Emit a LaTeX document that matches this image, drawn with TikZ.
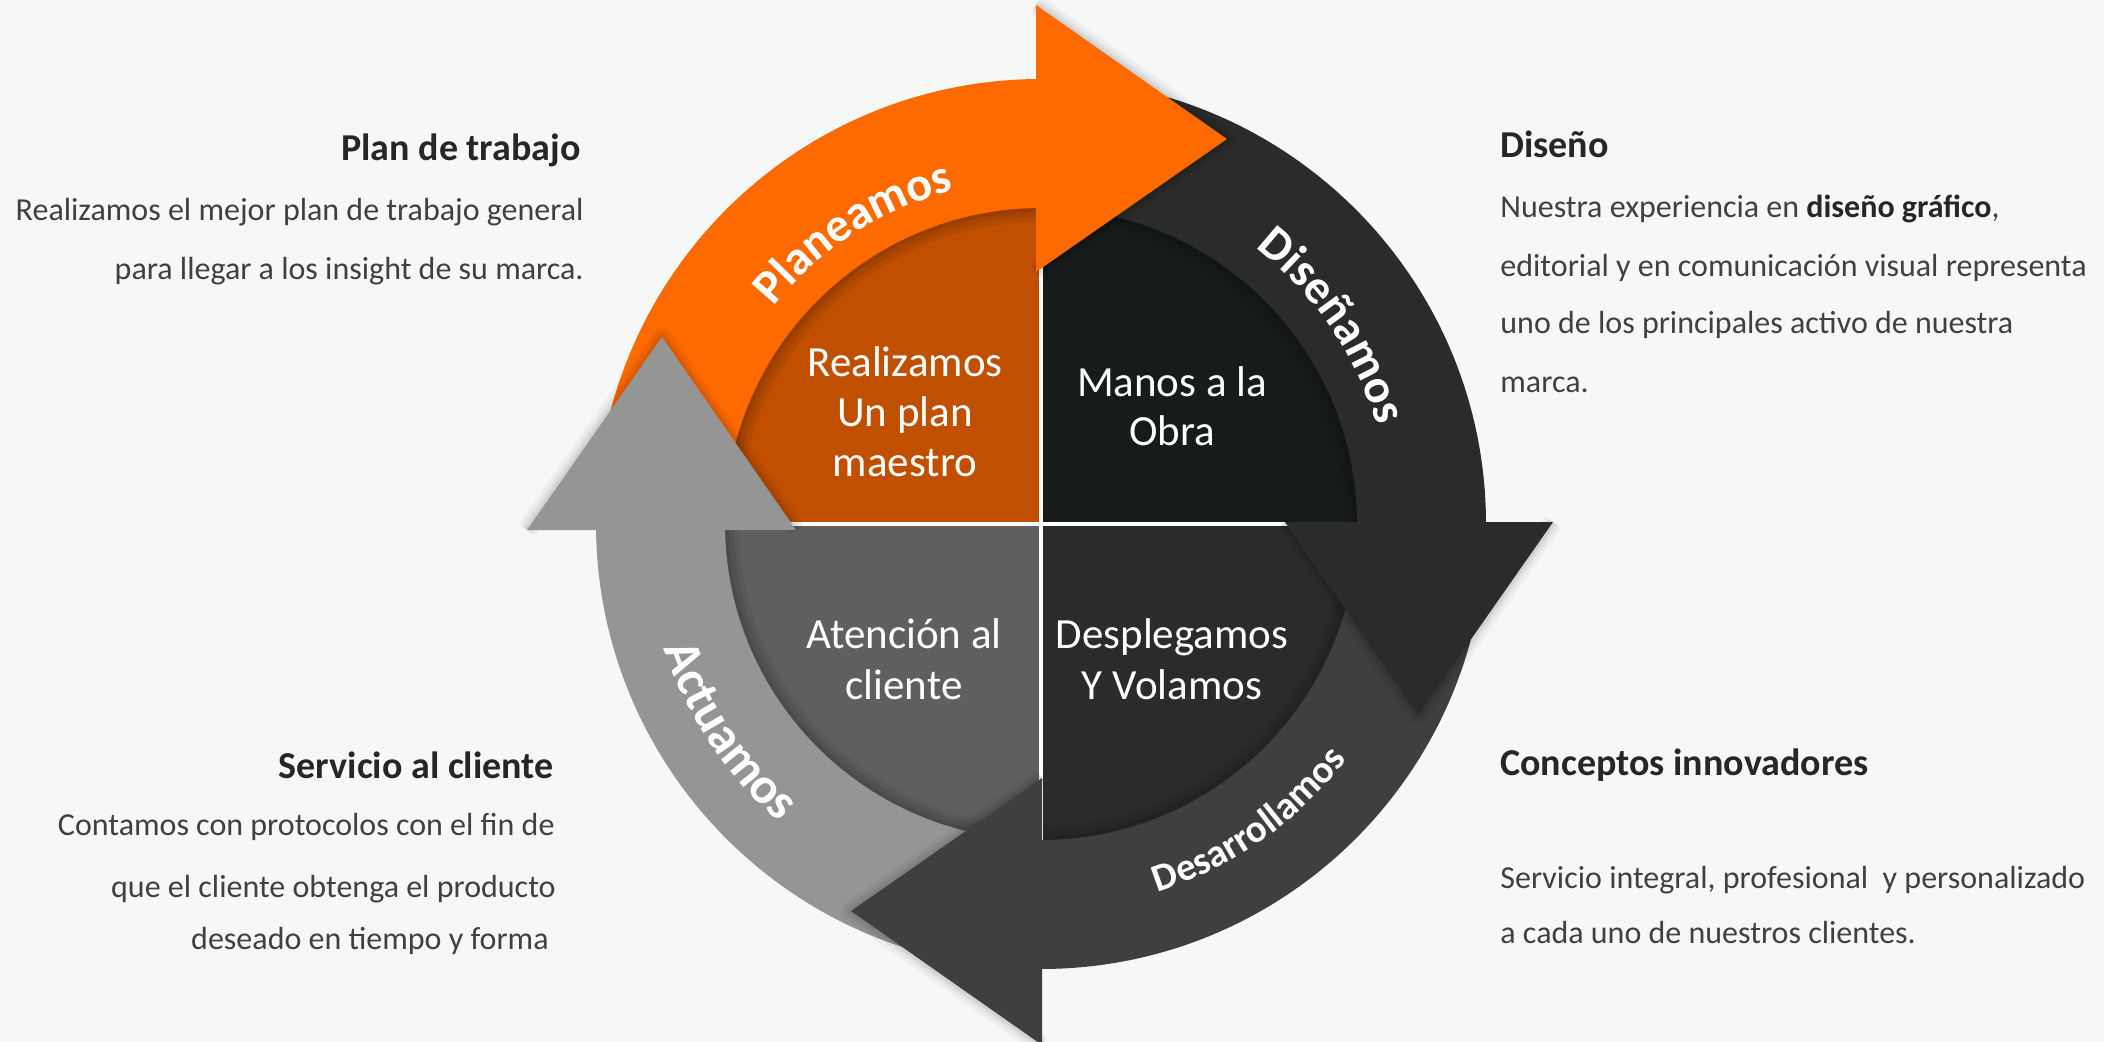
\documentclass[tikz,border=0pt]{standalone}
\usepackage{fontspec}
\setmainfont{Carlito}
\usetikzlibrary{decorations.text}
\definecolor{bg}{RGB}{246,247,247}
\definecolor{orng}{RGB}{255,106,0}
\definecolor{qtl}{RGB}{192,79,0}
\definecolor{qtr}{RGB}{23,27,27}
\definecolor{qbl}{RGB}{95,95,95}
\definecolor{qbr}{RGB}{43,43,43}
\definecolor{rdis}{RGB}{43,43,43}
\definecolor{rdes}{RGB}{63,63,63}
\definecolor{ract}{RGB}{149,149,149}
\definecolor{bodycol}{RGB}{64,64,64}
\definecolor{titlecol}{RGB}{38,38,38}
\newcommand{\lblfont}{\fontsize{24}{24}\selectfont\bfseries}
\newcommand{\lblact}{\fontsize{25.5}{25.5}\selectfont\bfseries}
\newcommand{\lblsmall}{\fontsize{19.5}{19.5}\selectfont\bfseries}
\newcommand{\headshadow}[3]{%
  \foreach \w/\o in {10/0.04,6/0.05,3/0.06}{%
    \draw[black,opacity=\o,line width=\w pt,line join=round] (#1)--(#2)--(#3);}}
\begin{document}
\begin{tikzpicture}[x=0.5pt,y=0.5pt,
  bodytxt/.style={font=\fontsize{16}{19}\selectfont, text=bodycol, inner sep=0pt},
  titletxt/.style={font=\fontsize{19}{23}\selectfont\bfseries, text=titlecol, inner sep=0pt},
  innertxt/.style={font=\fontsize{21.5}{25}\selectfont, text=white, inner sep=0pt, anchor=base}]
\useasboundingbox (0,0) rectangle (2104,1041);
\clip (0,0) rectangle (2104,1041);
\fill[bg] (0,0) rectangle (2104,1041);
\coordinate (C) at (1041,517);

% inner quadrants
\fill[qtl, shift={(C)}] (0,0) -- (180:318) arc (180:90:318) -- cycle;
\fill[qtr, shift={(C)}] (0,0) -- (90:318) arc (90:0:318) -- cycle;
\fill[qbr, shift={(C)}] (0,0) -- (0:318) arc (0:-90:318) -- cycle;
\fill[qbl, shift={(C)}] (0,0) -- (-90:318) arc (-90:-180:318) -- cycle;
% inner shadow near the ring
\foreach \w/\o in {14/0.06,9/0.07,4/0.08}{%
  \draw[black, opacity=\o, line width=\w pt, shift={(C)}] (0:316) arc (0:360:316);}
% white cross
\draw[white, line width=2.2pt, shift={(C)}] (-330,0) -- (330,0) (0,-330) -- (0,330);

% ring bodies
\fill[orng, shift={(C)}] (180:445) arc (180:90:445) -- (90:316) arc (90:180:316) -- cycle;
\fill[rdis, shift={(C)}] (90:445) arc (90:0:445) -- (0:316) arc (0:90:316) -- cycle;
\fill[rdes, shift={(C)}] (0:445) arc (0:-90:445) -- (-90:316) arc (-90:0:316) -- cycle;
\fill[ract, shift={(C)}] (-90:445) arc (-90:-180:445) -- (-180:316) arc (-180:-90:316) -- cycle;

% arrow heads
\coordinate (o1) at (1036,1036); \coordinate (o2) at (1227,902); \coordinate (o3) at (1036,769);
\coordinate (d1) at (1553,519);  \coordinate (d2) at (1418,326); \coordinate (d3) at (1285,519);
\coordinate (s1) at (1042,263);  \coordinate (s2) at (851,130);  \coordinate (s3) at (1042,-4);
\coordinate (g1) at (527,511);   \coordinate (g2) at (662,704);  \coordinate (g3) at (796,511);
\headshadow{o1}{o2}{o3}
\headshadow{d1}{d2}{d3}
\headshadow{s1}{s2}{s3}
\headshadow{g1}{g2}{g3}
\fill[orng] (o1) -- (o2) -- (o3) -- cycle;
\fill[rdis] (d1) -- (d2) -- (d3) -- cycle;
\fill[rdes] (s1) -- (s2) -- (s3) -- cycle;
\fill[ract] (g1) -- (g2) -- (g3) -- cycle;

% curved labels
\path[decorate, decoration={text along path, text={|\lblfont|Planeamos}, text align=center, text color=white}, shift={(C)}]
  (152.75:345) arc (152.75:92.75:345);
\path[decorate, decoration={text along path, text={|\lblfont|Diseñamos}, text align=center, text color=white}, shift={(C)}]
  (64.25:350) arc (64.25:4.25:350);
\path[decorate, decoration={text along path, text={|\lblact|Actuamos}, text align=center, text color=white}, shift={(C)}]
  (183.5:397) arc (183.5:243.5:397);
\path[decorate, decoration={text along path, text={|\lblsmall|Desarrollamos}, text align=center, text color=white}, shift={(C)}]
  (-85:386) arc (-85:-25:386);

% inner texts
\node[innertxt] (r1) at (905,665) {Realizamos};
\node[innertxt] (r2) at (905,615) {Un plan};
\node[innertxt] (r3) at (905,565) {maestro};
\node[innertxt] (m1) at (1172,645) {Manos a la};
\node[innertxt] (m2) at (1172,596) {Obra};
\node[innertxt] (a1) at (904,393) {Atención al};
\node[innertxt] (a2) at (904,342) {cliente};
\node[innertxt] (v1) at (1172,393) {Desplegamos};
\node[innertxt] (v2) at (1172,342) {Y Volamos};

% side texts
\node[titletxt, anchor=base east] (t1) at (581,880) {Plan de trabajo};
\node[bodytxt, anchor=base east] (t1a) at (584,820.5) {Realizamos el mejor plan de trabajo general};
\node[bodytxt, anchor=base east] (t1b) at (584,762) {para llegar a los insight de su marca.};

\node[titletxt, anchor=base east] (t2) at (554,263) {Servicio al cliente};
\node[bodytxt, anchor=base east] (t2a) at (555,206) {Contamos con protocolos con el fin de};
\node[bodytxt, anchor=base east] (t2b) at (556,143.5) {que el cliente obtenga el producto};
\node[bodytxt, anchor=base east] (t2c) at (549,92) {deseado en tiempo y forma};

\node[titletxt, anchor=base west] (t3) at (1500,883.3) {Diseño};
\node[bodytxt, anchor=base west] (t3a) at (1500,823) {Nuestra experiencia en \textbf{\color{titlecol}diseño gráfico},};
\node[bodytxt, anchor=base west] (t3b) at (1500,764) {editorial y en comunicación visual representa};
\node[bodytxt, anchor=base west] (t3c) at (1500,707) {uno de los principales activo de nuestra};
\node[bodytxt, anchor=base west] (t3d) at (1500,648.5) {marca.};

\node[titletxt, anchor=base west] (t4) at (1500,266) {Conceptos innovadores};
\node[bodytxt, anchor=base west] (t4a) at (1500,153) {Servicio integral, profesional\ \ y personalizado};
\node[bodytxt, anchor=base west] (t4b) at (1500,97.5) {a cada uno de nuestros clientes.};
\end{tikzpicture}
\end{document}
